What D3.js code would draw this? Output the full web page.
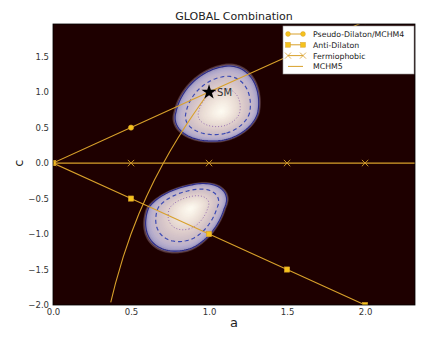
<!DOCTYPE html>
<html lang="en">
<head>
<meta charset="utf-8">
<title>GLOBAL Combination</title>
<script src="https://cdn.jsdelivr.net/npm/d3@7"></script>
<style>
    body { margin: 0; background: #fff; }
    svg { font-family: "DejaVu Sans", sans-serif; }
</style>
</head>
<body>
<svg id="chart" width="436" height="338"></svg>
<script>
// benchmark models in the (a, c) plane
const dilatonA = [0, 0.5, 1.0, 1.5, 2.0];
const dilatonC = [0, 0.5, 1.0, 1.5, 2.0];
const antiA = [0, 0.5, 1.0, 1.5, 2.0];
const antiC = [0, -0.5, -1.0, -1.5, -2.0];
const fermioA = [0, 0.5, 1.0, 1.5, 2.0, 2.5];
const fermioC = [0, 0, 0, 0, 0, 0];
const mchm5A = [1.0, 0.95, 0.9, 0.85, 0.8, 0.75, 0.7, 0.65, 0.6, 0.55, 0.5, 0.45, 0.4, 0.37];
const mchm5C = [1.0, 0.847, 0.689, 0.524, 0.35, 0.167, -0.029, -0.238, -0.467, -0.718, -1.0, -1.322, -1.7, -1.963];

// fit regions (two best-fit islands)
const blobA = [1.08, 0.884];
const blobC = [0.72, -0.634];
const blobSigALeft = [0.125, 0.122];
const blobSigARight = [0.10, 0.096];
const blobSigCDown = [0.172, 0.255];
const blobSigCUp = [0.272, 0.145];
const blobRho = [0.2, 0.35];

const xTicks = [0.0, 0.5, 1.0, 1.5, 2.0];
const yTicks = [-2.0, -1.5, -1.0, -0.5, 0.0, 0.5, 1.0, 1.5];
const legendNames = ["Pseudo-Dilaton/MCHM4", "Anti-Dilaton", "Fermiophobic", "MCHM5"];
const smPoint = {a: 1.0, c: 1.0, label: "SM"};

const margin = {top: 24, right: 21, bottom: 33, left: 53};
const W = 436, H = 338;
const width = W - margin.left - margin.right;
const height = H - margin.top - margin.bottom;

const svg = d3.select('#chart');
const g = svg.append('g').attr('transform', `translate(${margin.left},${margin.top})`);

const x = d3.scaleLinear().domain([0, 2.32]).range([0, width]);
const y = d3.scaleLinear().domain([-2, 1.96]).range([height, 0]);

svg.append('defs').append('clipPath').attr('id', 'clip')
    .append('rect').attr('width', width).attr('height', height);

const plot = g.append('g').attr('clip-path', 'url(#clip)');
plot.append('rect').attr('width', width).attr('height', height).attr('fill', '#1e0000');

// likelihood-like field on a grid
const step = 2;
const nx = Math.ceil(width / step), ny = Math.ceil(height / step);
const values = new Float64Array(nx * ny);
for (let j = 0; j < ny; j++) {
    for (let i = 0; i < nx; i++) {
        const a = x.invert((i + 0.5) * step), c = y.invert((j + 0.5) * step);
        let best = 0;
        for (let k = 0; k < blobA.length; k++) {
            const da = a - blobA[k], dc = c - blobC[k];
            const za = da / (da < 0 ? blobSigALeft[k] : blobSigARight[k]);
            const zc = dc / (dc < 0 ? blobSigCDown[k] : blobSigCUp[k]);
            const r = blobRho[k];
            const d2 = (za * za - 2 * r * za * zc + zc * zc) / (1 - r * r);
            best = Math.max(best, Math.exp(-d2 / 2));
        }
        values[j * nx + i] = best;
    }
}
const toF = d => Math.exp(-d * d / 2);
const gridPath = d3.geoPath(d3.geoTransform({
    point(px, py) { this.stream.point(px * step, py * step); }
}));

const dLevels = d3.range(2.5, 0.05, -0.08);
const fillColor = d3.scaleLinear()
    .domain([2.5, 2.42, 2.32, 2.1, 1.8, 1.4, 1.0, 0.5, 0.0])
    .range(['#5a3a40', '#7e76a0', '#a8a2c8', '#bdb2cc', '#cdbdc6', '#dccbcb', '#e9dcd4', '#f6eee4', '#fffdf4'])
    .clamp(true);

const contours = d3.contours().size([nx, ny]);
plot.append('g').selectAll('path')
    .data(contours.thresholds(dLevels.map(toF))(values))
    .join('path')
    .attr('d', gridPath)
    .attr('fill', (d, i) => fillColor(dLevels[i]))
    .attr('stroke', (d, i) => fillColor(dLevels[i]))
    .attr('stroke-width', 0.3);

const lineLevels = [
    {d: 2.38, color: '#2a2a88', dash: null, w: 1.1},
    {d: 1.85, color: '#3b4ab4', dash: '4,3', w: 1.2},
    {d: 1.2, color: '#9a70b4', dash: '1,2', w: 1}
];
lineLevels.forEach(l => {
    plot.append('path')
        .datum(contours.thresholds([toF(l.d)])(values)[0])
        .attr('d', gridPath)
        .attr('fill', 'none')
        .attr('stroke', l.color)
        .attr('stroke-width', l.w)
        .attr('stroke-dasharray', l.dash);
});

// model lines
const lineColor = '#d8a02a', markColor = '#f5c21c';
const line = d3.line().x(d => x(d[0])).y(d => y(d[1]));
const zipAC = (A, C) => A.map((a, i) => [a, C[i]]);

const dil = zipAC(dilatonA, dilatonC), anti = zipAC(antiA, antiC);
const fer = zipAC(fermioA, fermioC), m5 = zipAC(mchm5A, mchm5C);

[dil, anti, fer, m5].forEach(s => {
    plot.append('path').datum(s).attr('d', line)
        .attr('fill', 'none').attr('stroke', lineColor).attr('stroke-width', 1.1);
});
plot.selectAll('.dot').data(dil).join('circle')
    .attr('cx', d => x(d[0])).attr('cy', d => y(d[1])).attr('r', 2.6)
    .attr('fill', markColor).attr('stroke', lineColor).attr('stroke-width', 0.6);
plot.selectAll('.sq').data(anti).join('rect')
    .attr('x', d => x(d[0]) - 2.6).attr('y', d => y(d[1]) - 2.6)
    .attr('width', 5.2).attr('height', 5.2)
    .attr('fill', markColor).attr('stroke', lineColor).attr('stroke-width', 0.6);
plot.selectAll('.xm').data(fer).join('path')
    .attr('d', d => `M${x(d[0]) - 3.2},${y(d[1]) - 3.2}l6.4,6.4M${x(d[0]) - 3.2},${y(d[1]) + 3.2}l6.4,-6.4`)
    .attr('stroke', lineColor).attr('stroke-width', 0.9);

// SM point
plot.append('path')
    .attr('d', d3.symbol(d3.symbolStar, 70)())
    .attr('transform', `translate(${x(smPoint.a)},${y(smPoint.c)})`)
    .attr('fill', '#000');
plot.append('text')
    .attr('x', x(smPoint.a) + 8).attr('y', y(smPoint.c) + 4)
    .attr('font-size', 10).attr('fill', '#333').text(smPoint.label);

// frame
g.append('rect').attr('width', width).attr('height', height)
    .attr('fill', 'none').attr('stroke', '#000').attr('stroke-width', 0.8);

// axes
const fmt = d3.format('.1f');
const xAxis = g.append('g').attr('transform', `translate(0,${height})`)
    .call(d3.axisBottom(x).tickValues(xTicks).tickFormat(fmt).tickSize(0).tickPadding(4));
const yAxis = g.append('g')
    .call(d3.axisLeft(y).tickValues(yTicks).tickFormat(fmt).tickSize(0).tickPadding(4));
[xAxis, yAxis].forEach(ax => {
    ax.select('.domain').remove();
    ax.selectAll('text').attr('font-size', 8.5).attr('fill', '#333')
        .attr('font-family', '"DejaVu Sans", sans-serif');
});

svg.append('text').attr('x', margin.left + width / 2).attr('y', 327)
    .attr('text-anchor', 'middle').attr('font-size', 13).attr('fill', '#222').text('a');
svg.append('text').attr('transform', `translate(23,${margin.top + y(0)}) rotate(-90)`)
    .attr('text-anchor', 'middle').attr('font-size', 13).attr('fill', '#222').text('c');
svg.append('text').attr('x', margin.left + width / 2).attr('y', 20)
    .attr('text-anchor', 'middle').attr('font-size', 11).attr('fill', '#222').text('GLOBAL Combination');

// legend
const leg = svg.append('g').attr('transform', 'translate(283,26)');
leg.append('rect').attr('width', 131).attr('height', 48)
    .attr('fill', '#fff').attr('stroke', '#999').attr('stroke-width', 0.6);
legendNames.forEach((name, i) => {
    const yy = 8 + i * 10.8;
    const row = leg.append('g').attr('transform', `translate(0,${yy})`);
    row.append('line').attr('x1', 5).attr('x2', 20).attr('y1', 0).attr('y2', 0)
        .attr('stroke', lineColor).attr('stroke-width', 1);
    [5, 20].forEach(px => {
        if (i === 0) row.append('circle').attr('cx', px).attr('cy', 0).attr('r', 2.4)
            .attr('fill', markColor).attr('stroke', lineColor).attr('stroke-width', 0.5);
        if (i === 1) row.append('rect').attr('x', px - 2.4).attr('y', -2.4).attr('width', 4.8).attr('height', 4.8)
            .attr('fill', markColor).attr('stroke', lineColor).attr('stroke-width', 0.5);
        if (i === 2) row.append('path').attr('d', `M${px - 3},-3l6,6M${px - 3},3l6,-6`)
            .attr('stroke', lineColor).attr('stroke-width', 0.8);
    });
    row.append('text').attr('x', 30).attr('y', 3).attr('font-size', 7.8)
        .attr('fill', '#222').text(name);
});
</script>
</body>
</html>
